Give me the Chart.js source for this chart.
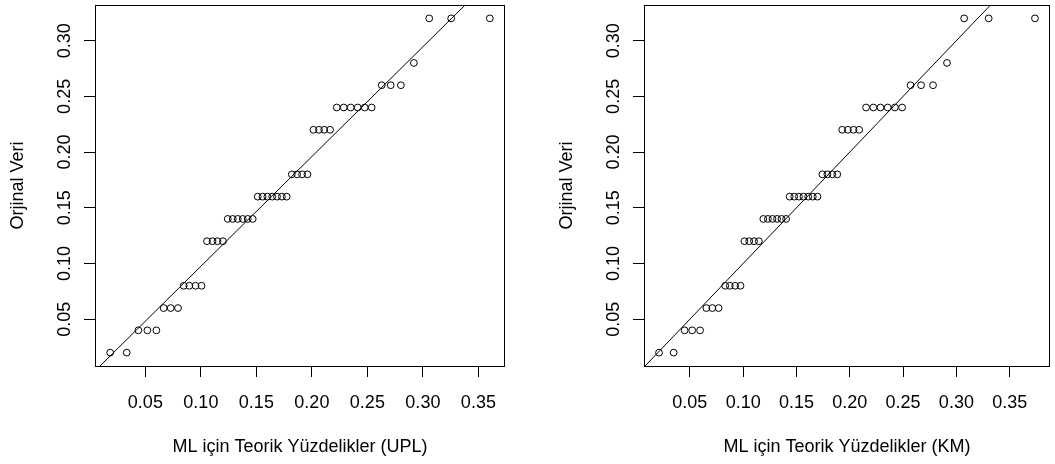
<!DOCTYPE html>
<html>
<head>
<meta charset="utf-8">
<script src="https://cdn.jsdelivr.net/npm/chart.js@4.4.1/dist/chart.umd.min.js"></script>
<style>
  html, body { margin: 0; padding: 0; background: #fff; }
  .panel { position: absolute; top: 0; height: 464px; }
</style>
</head>
<body>
<div class="panel" style="left:0;width:510px"><canvas id="chartUPL" width="510" height="464"></canvas></div>
<div class="panel" style="left:549px;width:506px"><canvas id="chartKM" width="506" height="464"></canvas></div>
<script>
// Orjinal veri (sorted sample)
const observed = [
    0.02, 0.02,
    0.04, 0.04, 0.04,
    0.06, 0.06, 0.06,
    0.08, 0.08, 0.08, 0.08,
    0.12, 0.12, 0.12, 0.12,
    0.14, 0.14, 0.14, 0.14, 0.14, 0.14,
    0.16, 0.16, 0.16, 0.16, 0.16, 0.16, 0.16,
    0.18, 0.18, 0.18, 0.18,
    0.22, 0.22, 0.22, 0.22,
    0.24, 0.24, 0.24, 0.24, 0.24, 0.24,
    0.26, 0.26, 0.26,
    0.28,
    0.32, 0.32, 0.32
];

// Theoretical percentiles (ML, UPL)
const uplQuantiles = [
    0.0183, 0.0332,
    0.0437, 0.0518, 0.0599,
    0.0665, 0.0728, 0.0794,
    0.0845, 0.0896, 0.0952, 0.1006,
    0.1055, 0.1105, 0.1150, 0.1199,
    0.1242, 0.1287, 0.1332, 0.1377, 0.1422, 0.1467,
    0.1512, 0.1556, 0.1599, 0.1643, 0.1686, 0.1730, 0.1773,
    0.1819, 0.1867, 0.1912, 0.1960,
    0.2014, 0.2064, 0.2111, 0.2164,
    0.2224, 0.2287, 0.2350, 0.2413, 0.2476, 0.2539,
    0.2629, 0.2710, 0.2802,
    0.2919,
    0.3057, 0.3255, 0.3603
];

// Theoretical percentiles (ML, KM)
const kmQuantiles = [
    0.0211, 0.0348,
    0.0451, 0.0522, 0.0596,
    0.0655, 0.0711, 0.0770,
    0.0832, 0.0875, 0.0925, 0.0975,
    0.1012, 0.1057, 0.1102, 0.1147,
    0.1189, 0.1232, 0.1275, 0.1318, 0.1360, 0.1403,
    0.1436, 0.1479, 0.1523, 0.1566, 0.1610, 0.1653, 0.1697,
    0.1743, 0.1790, 0.1836, 0.1883,
    0.1929, 0.1982, 0.2035, 0.2088,
    0.2153, 0.2221, 0.2288, 0.2356, 0.2423, 0.2491,
    0.2570, 0.2669, 0.2781,
    0.2912,
    0.3073, 0.3303, 0.3737
];

// reference lines (intercept, slope)
const uplLine = [-0.001, 0.985];
const kmLine = [0, 1];

const xTicks = [0.05, 0.10, 0.15, 0.20, 0.25, 0.30, 0.35];
const yTicks = [0.05, 0.10, 0.15, 0.20, 0.25, 0.30];

const FONT = "'Liberation Sans', Arial, sans-serif";

// R style axis range: data range extended by 4% on each side
function paddedRange(values) {
    const lo = Math.min(...values), hi = Math.max(...values);
    const d = (hi - lo) * 0.04;
    return [lo - d, hi + d];
}

// ✅ Box around the plot region
const boxPlugin = {
    id: "box",
    afterDraw(chart) {
        const { ctx, chartArea: a } = chart;
        ctx.save();
        ctx.strokeStyle = "#000";
        ctx.lineWidth = 1;
        ctx.strokeRect(Math.round(a.left) + 0.5, Math.round(a.top) + 0.5,
            Math.round(a.right - a.left) - 1, Math.round(a.bottom - a.top));
        ctx.restore();
    }
};

function makeChart(id, xValues, line, xTitle, padRight) {
    const [xMin, xMax] = paddedRange(xValues);
    const [yMin, yMax] = paddedRange(observed);

    const points = xValues.map((x, i) => ({ x: x, y: observed[i] }));
    const linePts = [xMin, xMax].map(x => ({ x: x, y: line[0] + line[1] * x }));

    const tickFont = { family: FONT, size: 18 };

    new Chart(document.getElementById(id), {
        type: "scatter",
        data: {
            datasets: [
                {
                    data: points,
                    pointStyle: "circle",
                    pointRadius: 3.4,
                    pointBorderWidth: 1,
                    pointBorderColor: "#000",
                    pointBackgroundColor: "rgba(0,0,0,0)"
                },
                {
                    type: "line",
                    data: linePts,
                    borderColor: "#000",
                    borderWidth: 1,
                    pointRadius: 0,
                    fill: false
                }
            ]
        },
        options: {
            responsive: false,
            animation: false,
            events: [],
            layout: { padding: { top: 4.5, right: padRight, bottom: 0, left: 0 } },
            plugins: { legend: { display: false }, tooltip: { enabled: false } },
            scales: {
                x: {
                    type: "linear",
                    min: xMin,
                    max: xMax,
                    afterBuildTicks: s => { s.ticks = xTicks.map(v => ({ value: v })); },
                    afterFit: s => {
                        s.height = 98;
                        s.paddingLeft = 0;
                        s.paddingRight = 0;
                    },
                    ticks: {
                        autoSkip: false,
                        maxRotation: 0,
                        padding: 15,
                        color: "#000",
                        font: tickFont,
                        callback: v => v.toFixed(2)
                    },
                    grid: { drawOnChartArea: false, drawTicks: true, tickLength: 11, color: "#000" },
                    border: { display: false },
                    title: {
                        display: true,
                        text: xTitle,
                        color: "#000",
                        font: tickFont,
                        padding: { top: 0, bottom: 6 }
                    }
                },
                y: {
                    type: "linear",
                    min: yMin,
                    max: yMax,
                    afterBuildTicks: s => { s.ticks = yTicks.map(v => ({ value: v })); },
                    afterFit: s => {
                        s.width = 95;
                        s.paddingTop = 0;
                        s.paddingBottom = 0;
                    },
                    ticks: {
                        autoSkip: false,
                        minRotation: 90,
                        maxRotation: 90,
                        crossAlign: "center",
                        padding: 1,
                        color: "#000",
                        font: tickFont,
                        callback: v => v.toFixed(2)
                    },
                    grid: { drawOnChartArea: false, drawTicks: true, tickLength: 11, color: "#000" },
                    border: { display: false },
                    title: {
                        display: true,
                        text: "Orjinal Veri",
                        color: "#000",
                        font: tickFont,
                        padding: { top: 7.5, bottom: 0 }
                    }
                }
            }
        },
        plugins: [boxPlugin]
    });
}

document.addEventListener("DOMContentLoaded", function () {
    makeChart("chartUPL", uplQuantiles, uplLine, "ML için Teorik Yüzdelikler (UPL)", 5);
    makeChart("chartKM", kmQuantiles, kmLine, "ML için Teorik Yüzdelikler (KM)", 1);
});
</script>
</body>
</html>
